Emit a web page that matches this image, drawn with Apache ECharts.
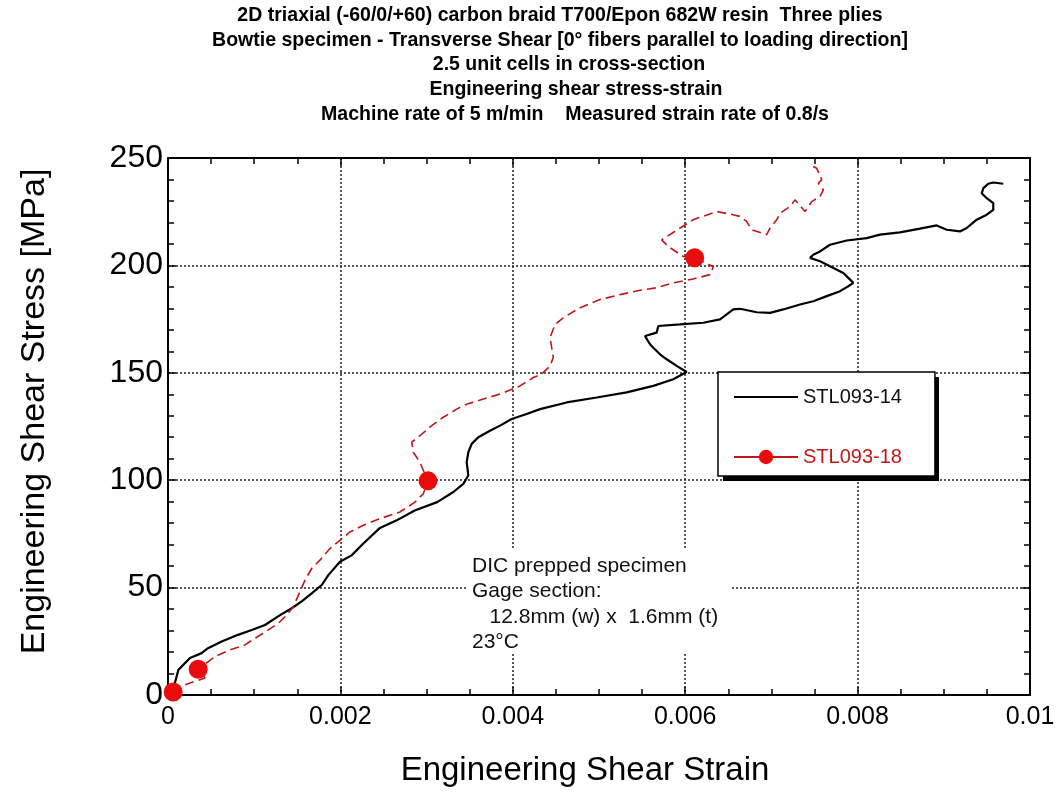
<!DOCTYPE html>
<html>
<head>
<meta charset="utf-8">
<script src="https://cdn.jsdelivr.net/npm/echarts@6/dist/echarts.min.js"></script>
<style>
html,body{margin:0;padding:0;background:#fff;}
#chart{width:1061px;height:792px;}
</style>
</head>
<body>
<div id="chart"></div>
<script>
// ---------- data ----------
const titleLines = [
  '2D triaxial (-60/0/+60) carbon braid T700/Epon 682W resin  Three plies',
  'Bowtie specimen - Transverse Shear [0° fibers parallel to loading direction]',
  '2.5 unit cells in cross-section',
  'Engineering shear stress-strain',
  'Machine rate of 5 m/min    Measured strain rate of 0.8/s'
];
const xTitle = 'Engineering Shear Strain';
const yTitle = 'Engineering Shear Stress [MPa]';
const seriesNames = ['STL093-14', 'STL093-18'];
const noteLines = ['DIC prepped specimen', 'Gage section:', '   12.8mm (w) x  1.6mm (t)', '23°C'];

const blackStrain = [0.00000,0.00005,0.00008,0.00012,0.000255,0.00039,0.000464,0.000623,0.000812,0.000971,
  0.001125,0.0013,0.001435,0.001551,0.001667,0.001783,0.00186,0.001995,0.00213,0.002266,
  0.002459,0.002653,0.002862,0.003123,0.00331,0.003426,0.003484,0.003465,0.003484,0.003523,
  0.0036,0.003735,0.003852,0.003987,0.004161,0.004316,0.004625,0.004973,0.005321,0.00563,
  0.005862,0.006017,0.005901,0.005785,0.005708,0.00563,0.005592,0.005534,0.005669,0.005688,
  0.00594,0.00621,0.006404,0.006558,0.006636,0.00683,0.006984,0.007138,0.007332,0.007486,
  0.007642,0.007796,0.007892,0.00795,0.007892,0.007834,0.00768,0.007564,0.007448,0.007486,
  0.007564,0.00768,0.007874,0.008105,0.00826,0.008492,0.008724,0.008918,0.009034,0.009188,
  0.009266,0.009381,0.009498,0.009574,0.009574,0.009498,0.00944,0.009459,0.009516,0.009574,0.00969];
const blackStress = [0,4,5.6,11.7,17.2,19.5,21.8,24.9,28,30.3,
  32.6,37.2,40.4,43.6,47.3,51.2,55.8,62,65,70.5,
  77.8,81.3,85.9,89.8,94.5,98.3,102.2,108.4,113,116.9,
  120,123,125.4,128.5,130.8,133.1,136.2,138.5,140.9,143.9,
  147,150.4,153.2,156.3,158.6,161.7,163.3,167.1,168.7,171.8,
  172.5,173.3,174.9,179.5,179.8,178.2,177.9,179.5,181.8,183.3,
  185.7,188,190.3,191.9,194.2,196.5,199.6,201.9,203.5,205,
  206.5,209.6,211.6,212.7,214.3,215.4,217.1,218.6,216.6,215.8,
  217.4,221.3,223.6,225.9,229,231.3,233.6,236,238,238.6,238];

const redStrain = [0.00006,0.0002,0.00043,0.00035,0.000545,0.000719,0.000893,0.001009,0.001164,0.00128,
  0.001377,0.001454,0.001531,0.001589,0.001667,0.001763,0.001879,0.001995,0.002111,0.002266,
  0.002459,0.002691,0.002865,0.002962,0.003016,0.002962,0.002923,0.002846,0.002827,0.002923,
  0.003059,0.003194,0.003349,0.003465,0.003658,0.003852,0.004084,0.004238,0.004335,0.004432,
  0.00447,0.004451,0.004432,0.00449,0.004586,0.00478,0.005012,0.005244,0.005476,0.005669,
  0.005862,0.006094,0.006288,0.006326,0.00611,0.005975,0.0058,0.005727,0.00594,0.00609,
  0.006365,0.006555,0.006636,0.006713,0.006771,0.006945,0.006984,0.007061,0.0071,0.007216,
  0.007274,0.00739,0.007468,0.007564,0.007602,0.007544,0.007584,0.007526,0.007448];
const redStress = [1.4,4.8,7.9,12,17.9,21,23.3,26.4,30.3,33.4,
  37.2,41.1,48.1,53.5,58.9,62.8,68.2,72,75.9,79,
  82.1,85.2,89.8,93.7,99.7,104.5,108.4,113,117.7,120.7,
  125.4,129.3,133.1,135.4,137.8,140.1,143.9,147.8,149.4,153.2,
  157.1,161.7,166.4,172.5,175.6,180.3,184.1,186.4,188.4,189.6,
  191.9,193.7,195.7,199.4,203.6,204.2,208.9,211.9,217.4,221.2,
  225.1,223.6,222.8,220.5,216.6,214.3,217.4,221.2,224.3,227.4,
  230.5,225.1,229.7,232.1,235.2,238.3,239.8,245.2,246.8];
const redMarkerIdx = [0, 3, 24, 54];

const xMin = 0, xMax = 0.01, xStep = 0.002;
const yMin = 0, yMax = 250, yStep = 50;

// ---------- chart ----------
const chart = echarts.init(document.getElementById('chart'));
const FONT = "'Liberation Sans', Arial, sans-serif";

const blackData = blackStrain.map((x, i) => [x, blackStress[i]]);
const redData = redStrain.map((x, i) => (
  redMarkerIdx.indexOf(i) >= 0
    ? { value: [x, redStress[i]], symbol: 'circle' }
    : { value: [x, redStress[i]], symbol: 'none' }
));

const gridLine = { show: true, lineStyle: { color: '#222', width: 1.5, type: [2, 2] } };
const axisLine = { show: true, onZero: false, lineStyle: { color: '#000', width: 2 } };
const tick = { show: true, inside: true, length: 8, lineStyle: { color: '#000', width: 1.5 } };
const minor = { show: true, length: 6, lineStyle: { color: '#000', width: 1.5 } };

const titleCenters = [560, 560, 569, 576, 575];
const titleGraphics = titleLines.map((t, i) => ({
  type: 'text', x: titleCenters[i], y: 15 + i * 24.8, z: 100, scaleX: 0.93,
  style: { text: t, font: 'bold 21px ' + FONT, fill: '#000', align: 'center', verticalAlign: 'middle' }
}));

const option = {
  backgroundColor: '#fff',
  animation: false,
  grid: { left: 168, right: 31, top: 158, bottom: 95, containLabel: false },
  legend: {
    type: 'plain', orient: 'vertical', left: 718, top: 372, right: 'auto', bottom: 'auto',
    z: 20,
    itemGap: 40, itemWidth: 64, itemHeight: 18,
    padding: [15, 33, 9, 15],
    backgroundColor: '#fff', borderColor: '#000', borderWidth: 1.5, borderRadius: 0,
    textStyle: { fontFamily: FONT, fontSize: 20, color: '#111' },
    data: [
      { name: seriesNames[0], icon: 'path://M0,0L32,0L32,1L0,1Z', itemStyle: { color: '#000' },
        textStyle: { color: '#111' } },
      { name: seriesNames[1], textStyle: { color: '#c01818' }, lineStyle: { type: 'solid', color: '#c01818' } }
    ]
  },
  xAxis: [
    {
      type: 'value', position: 'bottom', min: xMin, max: xMax, interval: xStep,
      axisLine: axisLine, axisTick: tick, minorTick: Object.assign({ splitNumber: 4 }, minor),
      splitLine: gridLine,
      axisLabel: { fontFamily: FONT, fontSize: 25, color: '#000', margin: 10,
        formatter: v => String(Number(v.toFixed(4))) },
      name: xTitle, nameLocation: 'middle', nameGap: 59,
      nameTextStyle: { fontFamily: FONT, fontSize: 33, color: '#000', padding: [0, 28, 0, 0] }
    },
    {
      type: 'value', position: 'top', min: xMin, max: xMax, interval: xStep,
      axisLine: axisLine, axisTick: tick, minorTick: Object.assign({ splitNumber: 4 }, minor),
      splitLine: { show: false }, axisLabel: { show: false }
    }
  ],
  yAxis: [
    {
      type: 'value', position: 'left', min: yMin, max: yMax, interval: yStep,
      axisLine: axisLine, axisTick: tick, minorTick: Object.assign({ splitNumber: 5 }, minor),
      splitLine: gridLine,
      axisLabel: { fontFamily: FONT, fontSize: 32, color: '#000', margin: 5 },
      name: yTitle, nameLocation: 'middle', nameGap: 116,
      nameTextStyle: { fontFamily: FONT, fontSize: 34, color: '#000', padding: [0, 0, 0, 30] }
    },
    {
      type: 'value', position: 'right', min: yMin, max: yMax, interval: yStep,
      axisLine: axisLine, axisTick: tick, minorTick: Object.assign({ splitNumber: 5 }, minor),
      splitLine: { show: false }, axisLabel: { show: false }
    }
  ],
  graphic: titleGraphics.concat([
    // legend drop shadow
    { type: 'rect', shape: { x: 723, y: 377, width: 216, height: 104 }, style: { fill: '#000' }, z: 19, zlevel: 0 },
    { type: 'rect', shape: { x: 468, y: 550, width: 262, height: 103 }, style: { fill: '#fff' }, z: 5 },
    {
      type: 'text', x: 472, y: 553, z: 6,
      style: { text: noteLines.join('\n'), font: '21px ' + FONT, lineHeight: 25.5, fill: '#111',
        align: 'left', verticalAlign: 'top' }
    }
  ]),
  series: [
    {
      name: seriesNames[0], type: 'line', xAxisIndex: 0, yAxisIndex: 0,
      data: blackData, symbol: 'none', z: 10,
      lineStyle: { color: '#000', width: 2.2 }, itemStyle: { color: '#000' }
    },
    {
      name: seriesNames[1], type: 'line', xAxisIndex: 0, yAxisIndex: 0,
      data: redData, symbol: 'circle', symbolSize: 19, showSymbol: true, showAllSymbol: true, z: 11,
      lineStyle: { color: '#c01818', width: 1.6, type: [9, 5] },
      itemStyle: { color: '#e80c0c' }
    }
  ]
};
chart.setOption(option);
</script>
</body>
</html>
